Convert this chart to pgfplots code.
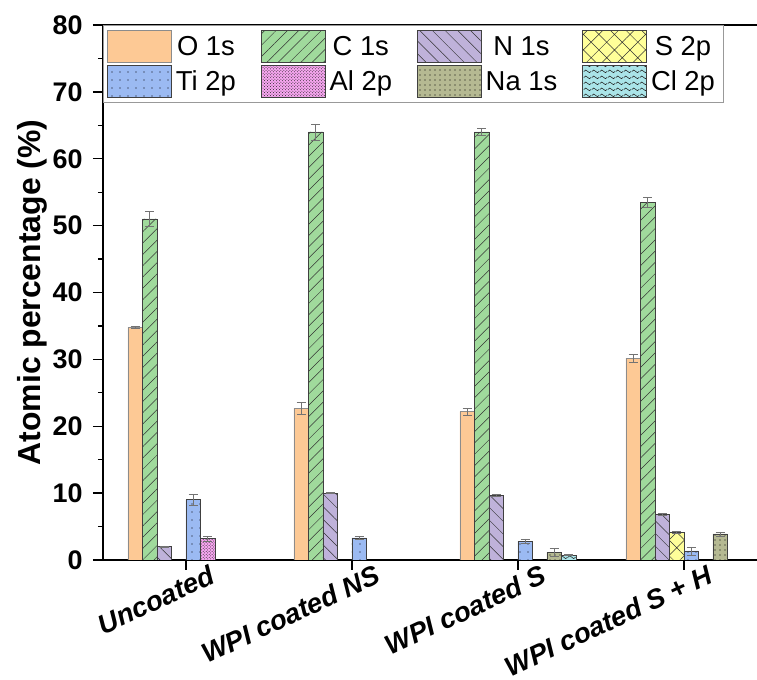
\documentclass[border=0pt]{standalone}
\usepackage{pgfplots}
\pgfplotsset{compat=1.18}
\usepackage{fontspec}
\setmainfont{Liberation Sans}
\usetikzlibrary{patterns,patterns.meta}
\definecolor{cO}{HTML}{FDC995}
\definecolor{cC}{HTML}{A0DA9C}
\definecolor{cN}{HTML}{BFB2DA}
\definecolor{cS}{HTML}{FFFF99}
\definecolor{cTi}{HTML}{9BBAF2}
\definecolor{cAl}{HTML}{F7A6F0}
\definecolor{cNa}{HTML}{B5B992}
\definecolor{cCl}{HTML}{AAE4E8}
\pgfdeclarepatternformonly{mywaves}{\pgfqpoint{0bp}{0bp}}{\pgfqpoint{8bp}{6bp}}{\pgfqpoint{8bp}{6bp}}{%
  \pgfsetlinewidth{0.6bp}%
  \pgfpathmoveto{\pgfqpoint{0bp}{3bp}}%
  \pgfpathcurveto{\pgfqpoint{1.3bp}{5bp}}{\pgfqpoint{2.7bp}{5bp}}{\pgfqpoint{4bp}{3bp}}%
  \pgfpathcurveto{\pgfqpoint{5.3bp}{1bp}}{\pgfqpoint{6.7bp}{1bp}}{\pgfqpoint{8bp}{3bp}}%
  \pgfusepath{stroke}}
\begin{document}
\begin{tikzpicture}
\begin{axis}[
  scale only axis, width=654bp, height=535bp,
  ybar=0pt, bar width=14.5bp,
  xmin=-0.5, xmax=3.44, ymin=0, ymax=80,
  axis x line*=box, axis y line*=left,
  axis line style={line width=1.6bp, black},
  xtick={0,1,2,3}, xtick pos=left,
  xticklabels={Uncoated, WPI coated NS, WPI coated S, WPI coated S + H},
  ytick={0,10,...,80}, minor y tick num=1,
  tick align=outside, major tick length=10bp, minor tick length=5bp,
  tick style={line width=1.3bp, black},
  /pgf/number format/assume math mode=true,
  yticklabel style={font=\fontsize{27}{30}\selectfont\bfseries, xshift=-7bp},
  xticklabel style={font=\fontsize{27.5}{30}\selectfont\bfseries\itshape, inner sep=0pt, xshift=22bp, yshift=6bp, rotate=25, anchor=north east},
  ylabel={Atomic percentage (\%)},
  ylabel style={font=\fontsize{32}{36}\selectfont\bfseries, at={(axis description cs:-0.1086,0.5)}, anchor=center},
  legend columns=4,
  legend image code/.code={\draw[#1] (0bp,-16bp) rectangle (64bp,16bp);},
  legend style={at={(0,1)}, anchor=north west, draw=black!40, line width=0.6bp,
    font=\fontsize{27.5}{30}\selectfont, inner xsep=4bp, inner ysep=5bp, row sep=2bp,
    nodes={inner xsep=4bp, inner ysep=1bp},
    /tikz/every even column/.append style={column sep=21bp}},
  every axis plot/.append style={line width=0.7bp,
    error bars/y dir=both, error bars/y explicit,
    error bars/error bar style={black!55, line width=0.6bp},
    error bars/error mark options={rotate=90, mark size=4.5bp, black!55, line width=0.6bp}},
]
\addplot[fill=cO, draw=black!45] coordinates {(0,34.8) +- (0,0.15) (1,22.7) +- (0,0.9) (2,22.2) +- (0,0.5) (3,30.2) +- (0,0.6)};
\addplot[fill=cC, draw=black!75, postaction={pattern={Lines[angle=45,distance=8bp,line width=0.5bp]}, pattern color=black!80}] coordinates {(0,51.0) +- (0,1.1) (1,64.0) +- (0,1.2) (2,64.0) +- (0,0.5) (3,53.5) +- (0,0.7)};
\addplot[fill=cN, draw=black!75, postaction={pattern={Lines[angle=-45,distance=9bp,line width=0.5bp]}, pattern color=black!80}] coordinates {(0,2.0) +- (0,0.1) (1,10.0) +- (0,0.1) (2,9.6) +- (0,0.15) (3,6.8) +- (0,0.15)};
\addplot[fill=cS, draw=black!75, postaction={pattern={Hatch[angle=45,distance=11bp,line width=0.5bp]}, pattern color=black!80}] coordinates {(3,4.15) +- (0,0.1)};
\addplot[fill=cTi, draw=black!75, postaction={pattern={Dots[distance=8bp,radius=0.7bp]}, pattern color=black}] coordinates {(0,9.0) +- (0,0.8) (1,3.3) +- (0,0.25) (2,2.8) +- (0,0.35) (3,1.35) +- (0,0.6)};
\addplot[fill=cAl, draw=black!75, postaction={pattern=crosshatch dots, pattern color=black!85}] coordinates {(0,3.2) +- (0,0.4)};
\addplot[fill=cNa, draw=black!75, postaction={pattern={Dots[distance=5bp,radius=0.6bp]}, pattern color=black}] coordinates {(2,1.15) +- (0,0.6) (3,3.9) +- (0,0.3)};
\addplot[fill=cCl, draw=black!75, postaction={pattern=mywaves, pattern color=black!85}] coordinates {(2,0.75) +- (0,0.1)};
\legend{O 1s, C 1s, N 1s, S 2p, Ti 2p, Al 2p, Na 1s, Cl 2p}
\end{axis}
\pgfresetboundingbox
\path[use as bounding box] ([xshift=-103bp,yshift=-120bp]current axis.south west) rectangle ([yshift=25bp]current axis.north east);
\end{tikzpicture}
\end{document}
